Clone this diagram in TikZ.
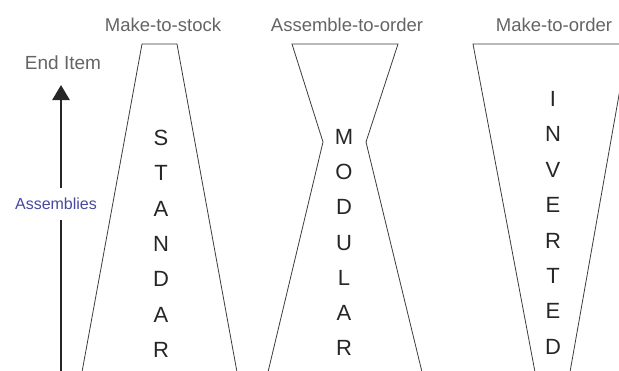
\documentclass[tikz,border=0pt]{standalone}
\usepackage{fontspec}
\setmainfont{Liberation Sans}
\usepackage{tikz}
\usetikzlibrary{arrows.meta, positioning}
\definecolor{labelgray}{RGB}{100, 100, 100}
\definecolor{asmblue}{RGB}{72, 72, 160}
\definecolor{edgegray}{RGB}{60, 60, 60}
\tikzset{
  strategy/.style={
    font=\fontsize{18.5}{20}\selectfont,
    text=labelgray,
    inner sep=0pt
  },
  letter/.style={
    font=\fontsize{22}{24}\selectfont,
    text=black!85,
    inner sep=0pt
  },
  outline/.style={
    draw=edgegray,
    line width=0.8pt,
    line join=miter
  },
  levelaxis/.style={
    line width=2.6pt,
    draw=black!85
  }
}

\begin{document}
\begin{tikzpicture}[x=1pt, y=-1pt]
          \useasboundingbox (0,0) rectangle (619,370);

          % strategy headings
          \node[strategy] (mts) at (163, 25) {Make-to-stock};
          \node[strategy] (ato) at (347, 25) {Assemble-to-order};
          \node[strategy] (mto) at (554, 25) {Make-to-order};

          % level axis
          \node[strategy, font=\fontsize{19}{20}\selectfont] (enditem) at (63, 63) {End Item};
          \node[inner sep=0pt, minimum height=32pt, text=asmblue,
                font=\fontsize{16}{18}\selectfont] (asm) at (56, 204) {Assemblies};
          \coordinate (base) at (61, 372);
          \coordinate (tip) at (61, 85);
          \draw[levelaxis] (base) -- (asm.south -| base);
          \draw[levelaxis, -{Triangle[width=17pt, length=15pt]}] (asm.north -| base) -- (tip);

          % product structures
          \begin{scope}
            \clip (0,0) rectangle (619,370);
            \draw[outline] (82, 372) -- (142, 44) -- (177, 44) -- (237, 372);
            \draw[outline] (268, 372) -- (323, 142) -- (292, 44) -- (398, 44)
                           -- (366, 142) -- (422, 372);
            \draw[outline] (535, 372) -- (473, 44) -- (628, 44) -- (570, 372);
          \end{scope}

          \foreach \l [count=\i] in {S,T,A,N,D,A,R}
            \node[letter] (std\i) at (161, 138 + 35.3*\i - 35.3) {\l};
          \foreach \l [count=\i] in {M,O,D,U,L,A,R}
            \node[letter] (mod\i) at (344, 137 + 35.2*\i - 35.2) {\l};
          \foreach \l [count=\i] in {I,N,V,E,R,T,E,D}
            \node[letter] (inv\i) at (553, 99 + 35.4*\i - 35.4) {\l};
        \end{tikzpicture}
\end{document}
